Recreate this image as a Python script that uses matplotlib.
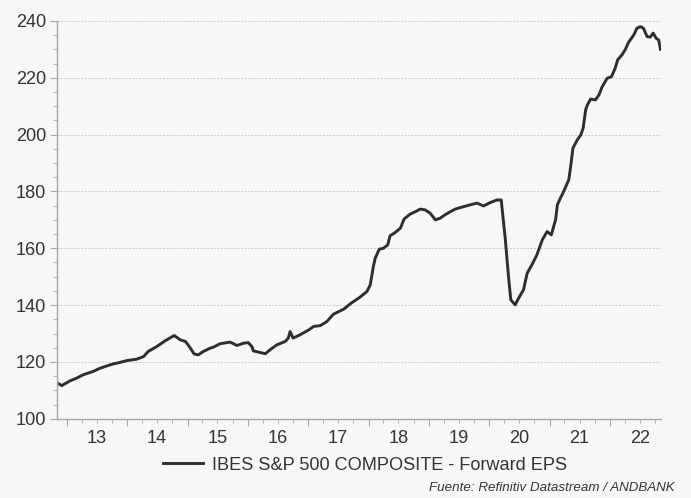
import pandas as pd
import matplotlib
matplotlib.use('Agg')
import matplotlib.pyplot as plt
import matplotlib.dates as mdates
import matplotlib.transforms as mtransforms

plt.rcParams['font.family'] = ['Liberation Sans', 'DejaVu Sans']

# IBES S&P 500 forward EPS
dates = [
    '2012-11-04', '2012-12-01', '2013-01-21', '2013-02-28', '2013-04-10', '2013-06-10',
    '2013-07-20', '2013-10-01', '2013-11-15', '2013-12-31', '2014-03-01', '2014-04-10',
    '2014-05-08', '2014-06-28', '2014-08-20', '2014-10-12', '2014-11-18', '2014-12-20',
    '2015-01-18', '2015-02-10', '2015-03-07', '2015-04-07', '2015-05-19', '2015-06-06',
    '2015-07-16', '2015-09-16', '2015-10-27', '2015-12-06', '2016-01-04', '2016-01-26',
    '2016-02-03', '2016-03-18', '2016-04-16', '2016-05-15', '2016-06-24', '2016-08-14',
    '2016-09-02', '2016-09-13', '2016-10-01', '2016-11-14', '2017-01-04', '2017-02-03',
    '2017-03-15', '2017-04-23', '2017-06-02', '2017-08-04', '2017-09-13', '2017-11-10',
    '2017-12-22', '2018-01-11', '2018-01-30', '2018-02-10', '2018-03-07', '2018-04-01',
    '2018-04-27', '2018-05-11', '2018-06-10', '2018-07-13', '2018-08-04', '2018-09-09',
    '2018-10-12', '2018-11-10', '2018-12-10', '2019-01-08', '2019-02-10', '2019-03-11',
    '2019-04-09', '2019-05-12', '2019-06-10', '2019-07-09', '2019-09-09', '2019-10-19',
    '2019-11-28', '2020-01-08', '2020-02-17', '2020-03-14', '2020-04-08', '2020-04-27',
    '2020-05-11', '2020-06-06', '2020-06-28', '2020-07-27', '2020-08-18', '2020-09-16',
    '2020-10-16', '2020-11-18', '2020-12-17', '2021-01-11', '2021-02-06', '2021-02-17',
    '2021-03-07', '2021-03-27', '2021-04-27', '2021-05-11', '2021-05-22', '2021-06-17',
    '2021-07-09', '2021-07-23', '2021-08-07', '2021-08-18', '2021-09-06', '2021-10-05',
    '2021-10-27', '2021-11-14', '2021-12-15', '2022-01-11', '2022-02-02', '2022-02-17',
    '2022-03-14', '2022-04-05', '2022-04-23', '2022-05-26', '2022-06-13', '2022-07-05',
    '2022-07-23', '2022-08-14', '2022-09-02', '2022-09-20', '2022-10-08', '2022-10-23',
    '2022-11-03',
]
eps = [
    112.6, 111.7, 113.4, 114.3, 115.5, 116.7,
    117.8, 119.2, 119.8, 120.5, 121.0, 121.9,
    123.7, 125.4, 127.5, 129.3, 127.8, 127.2,
    124.9, 122.8, 122.5, 123.7, 124.9, 125.2,
    126.4, 127.0, 125.8, 126.6, 126.8, 125.4,
    123.9, 123.3, 122.9, 124.3, 126.0, 127.2,
    128.4, 130.7, 128.4, 129.6, 131.3, 132.5,
    132.8, 134.2, 136.8, 138.6, 140.5, 142.8,
    144.8, 147.1, 153.6, 156.5, 159.7, 160.0,
    161.2, 164.4, 165.5, 167.1, 170.3, 172.0,
    172.9, 173.8, 173.5, 172.4, 170.0, 170.6,
    171.8, 172.9, 173.8, 174.3, 175.3, 175.9,
    174.9, 176.1, 177.0, 177.0, 163.0, 150.1,
    141.9, 140.1, 142.5, 145.4, 151.2, 154.2,
    157.7, 163.0, 165.9, 164.7, 170.0, 175.3,
    177.6, 180.0, 184.1, 189.9, 195.2, 198.1,
    199.9, 202.3, 208.7, 210.5, 212.5, 212.2,
    214.0, 216.7, 219.8, 220.4, 223.4, 226.3,
    228.0, 230.0, 232.4, 235.1, 237.4, 238.0,
    237.4, 234.5, 234.3, 235.7, 233.9, 233.3,
    230.0,
]
year_labels = ['13', '14', '15', '16', '17', '18', '19', '20', '21', '22']
series_name = 'IBES S&P 500 COMPOSITE - Forward EPS'
source = 'Fuente: Refinitiv Datastream / ANDBANK'

bg = '#f7f7f7'
txt = '#333333'
axcol = '#a6a6a6'
fs = 13.1

x = pd.to_datetime(dates)

fig = plt.figure(figsize=(6.91, 4.98), dpi=100, facecolor=bg)
ax = fig.add_axes([0.083, 0.159, 0.874, 0.799], facecolor=bg)

ax.plot(x, eps, color='#2e2e2e', lw=2.1, solid_joinstyle='round', label=series_name)

ax.set_ylim(100, 240)
ax.set_yticks(range(100, 241, 20))
ax.set_yticks(range(100, 241, 5), minor=True)
ax.set_xlim(pd.Timestamp('2012-11-04'), pd.Timestamp('2022-11-08'))
ax.xaxis.set_major_locator(mdates.YearLocator())
ax.xaxis.set_minor_locator(mdates.MonthLocator(bymonth=[1, 4, 7, 10]))
ax.xaxis.set_major_formatter(plt.NullFormatter())

for s in ['top', 'right']:
    ax.spines[s].set_visible(False)
for s in ['left', 'bottom']:
    ax.spines[s].set_color(axcol)
    ax.spines[s].set_linewidth(1.0)

ax.tick_params(axis='y', which='major', length=5, color=axcol, labelsize=fs,
               labelcolor=txt, pad=3)
ax.tick_params(axis='y', which='minor', length=3, color=axcol)
ax.tick_params(axis='x', which='major', length=5, color=axcol)
ax.tick_params(axis='x', which='minor', length=3, color=axcol)

ax.grid(axis='y', which='major', color='#c8c8c8', linestyle=(0, (2, 1.5)), linewidth=0.7)

# year labels centred on each year
trans = mtransforms.blended_transform_factory(ax.transData, ax.transAxes)
for lab in year_labels:
    mid = mdates.date2num(pd.Timestamp('20' + lab + '-07-01'))
    ax.text(mid, -0.028, lab, transform=trans, ha='center', va='top',
            fontsize=fs, color=txt)

leg = fig.legend(loc='center', bbox_to_anchor=(0.528, 0.066), frameon=False,
                 fontsize=fs, handlelength=2.2, handletextpad=0.5)
for t in leg.get_texts():
    t.set_color(txt)

fig.text(0.976, 0.02, source, ha='right', va='center', fontsize=9.6,
         style='italic', color=txt)

fig.savefig('out.png', dpi=100, facecolor=bg)
